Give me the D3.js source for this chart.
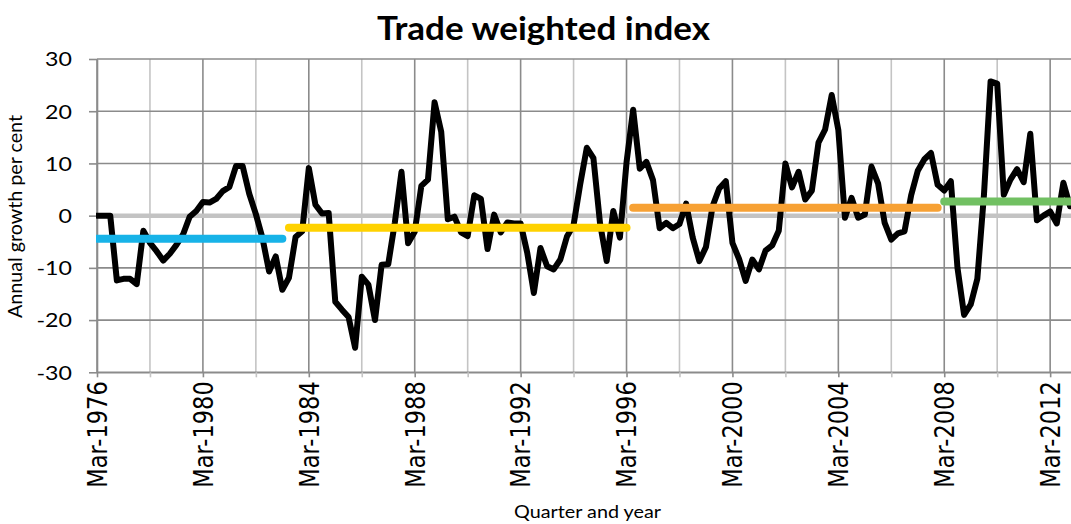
<!DOCTYPE html>
<html>
<head>
<meta charset="utf-8">
<script src="https://cdn.jsdelivr.net/npm/d3@7"></script>
<style>
  body { margin: 0; background: #ffffff; }
  svg { display: block; }
</style>
</head>
<body>
<svg id="chart" width="1071" height="524"></svg>
<script>
// Annual growth of the trade weighted index, per cent, one value per quarter from Mar-1976
const growth = [
  0, 0, 0, -12.4, -12.1, -12.1, -13.1, -2.9, -5.2, -6.8,
  -8.6, -7.3, -5.6, -3.6, -0.2, 0.9, 2.6, 2.5, 3.2, 4.7,
  5.5, 9.5, 9.5, 4.2, 0.3, -4.3, -10.7, -7.8, -14.2, -11.9,
  -4.1, -3, 9.1, 2.1, 0.4, 0.5, -16.5, -18, -19.4, -25.3,
  -11.7, -13.2, -20, -9.4, -9.3, -1.3, 8.4, -5.3, -3.1, 5.7,
  6.9, 21.7, 16.1, -0.7, -0.2, -3.2, -3.9, 3.9, 3.2, -6.4,
  0.2, -3.2, -1.3, -1.5, -1.5, -7.1, -14.8, -6.2, -9.7, -10.3,
  -8.4, -4, -1.8, 6, 13, 11, -1.5, -8.7, 0.9, -4.2,
  10.2, 20.3, 9, 10.3, 6.8, -2.4, -1.4, -2.4, -1.6, 2.3,
  -4.2, -8.7, -6, 1.8, 5.2, 6.6, -5.2, -8.3, -12.5, -8.4,
  -10.3, -6.7, -5.7, -2.9, 10, 5.4, 8.4, 3.1, 4.8, 14,
  16.5, 23.1, 16.4, -0.4, 3.4, -0.4, 0.2, 9.4, 6.2, -1.4,
  -4.6, -3.4, -3, 3.9, 8.6, 10.8, 12, 5.9, 4.8, 6.6,
  -10, -19, -17, -12.1, 4, 25.7, 25.3, 4, 6.9, 8.9,
  6.4, 15.7, -0.9, 0, 0.8, -1.5, 6.3, 1.8
];

// Quarter labels for the category axis
const firstYear = 1976;
const quarterMonths = ["Mar", "Jun", "Sep", "Dec"];
const quarters = growth.map((_, i) => quarterMonths[i % 4] + "-" + (firstYear + Math.floor(i / 4)));

const xTickLabels = ["Mar-1976", "Mar-1980", "Mar-1984", "Mar-1988", "Mar-1992",
                     "Mar-1996", "Mar-2000", "Mar-2004", "Mar-2008", "Mar-2012"];
const yTicks = [-30, -20, -10, 0, 10, 20, 30];

// Period averages
const avgFrom  = ["Mar-1976", "Jun-1983", "Jun-1996", "Mar-2008"];
const avgTo    = ["Mar-1983", "Mar-1996", "Dec-2007", "Dec-2012"];
const avgValue = [-4.4, -2.3, 1.5, 2.7];
const avgColour = ["#17b3e8", "#ffd200", "#f7a134", "#71c062"];

const svg = d3.select("#chart");
const plotLeft = 97, plotRight = 1071, plotTop = 59, plotBottom = 372.3;

const x = d3.scaleLinear().domain([0, growth.length - 1 + 0.15]).range([plotLeft, plotRight]);
const y = d3.scaleLinear().domain([-30, 30]).range([plotBottom, plotTop]);

const darkGrid = "#8b8b8b", lightGrid = "#c4c4c4";

// Vertical gridlines every two years, darker on labelled years
const gridIdx = d3.range(0, growth.length, 8);
svg.append("g").selectAll("line").data(gridIdx).join("line")
  .attr("x1", d => x(d)).attr("x2", d => x(d))
  .attr("y1", plotTop).attr("y2", plotBottom)
  .attr("stroke", d => d % 16 === 0 ? darkGrid : lightGrid)
  .attr("stroke-width", 1.6);

// Horizontal gridlines
svg.append("g").selectAll("line").data(yTicks.filter(v => v !== 0)).join("line")
  .attr("x1", plotLeft).attr("x2", plotRight)
  .attr("y1", d => y(d)).attr("y2", d => y(d))
  .attr("stroke", darkGrid).attr("stroke-width", 1.6);

// Left axis with outward ticks
const yAxis = svg.append("g").attr("transform", `translate(${plotLeft},0)`)
  .call(d3.axisLeft(y).tickValues(yTicks).tickSize(8).tickSizeOuter(0).tickFormat(d => String(d)));
yAxis.select(".domain").attr("stroke", darkGrid).attr("stroke-width", 1.6);
yAxis.selectAll(".tick line").attr("stroke", darkGrid).attr("stroke-width", 1.6);
yAxis.selectAll(".tick text")
  .attr("x", 0).attr("dy", "0.36em")
  .attr("transform", "translate(-25,0) scale(1.22,1)")
  .attr("font-family", "Lato, 'Open Sans', sans-serif")
  .attr("font-size", 19).attr("fill", "#000");

// Bottom axis: ticks every two years, labels every four
const xAxis = svg.append("g").attr("transform", `translate(0,${plotBottom})`)
  .call(d3.axisBottom(x).tickValues(gridIdx).tickSize(5).tickSizeOuter(0)
    .tickFormat(i => xTickLabels.includes(quarters[i]) ? quarters[i] : ""));
xAxis.select(".domain").attr("stroke", darkGrid).attr("stroke-width", 1.6);
xAxis.selectAll(".tick line").attr("stroke", d => d % 16 === 0 ? darkGrid : lightGrid).attr("stroke-width", 1.6);
xAxis.selectAll(".tick text")
  .attr("x", 0).attr("y", 0).attr("dy", "0.36em")
  .attr("text-anchor", "end")
  .attr("transform", "translate(0,9) scale(1.15,1) rotate(-90)")
  .attr("font-family", "'DejaVu Sans', sans-serif")
  .attr("font-size", 22.5).attr("fill", "#000");

// Series clipped to the plot area
svg.append("clipPath").attr("id", "plot-clip")
  .append("rect").attr("x", plotLeft - 1).attr("y", 0).attr("width", plotRight - plotLeft + 1).attr("height", 524);
const plot = svg.append("g").attr("clip-path", "url(#plot-clip)");

// Zero line
plot.append("line")
  .attr("x1", plotLeft).attr("x2", plotRight)
  .attr("y1", y(0)).attr("y2", y(0))
  .attr("stroke", "#c3c3c3").attr("stroke-width", 4.5);

// Growth line
const line = d3.line().x((d, i) => x(i)).y(d => y(d));
plot.append("path").datum(growth)
  .attr("d", line)
  .attr("fill", "none").attr("stroke", "#000")
  .attr("stroke-width", 6).attr("stroke-linejoin", "round").attr("stroke-linecap", "round");

// Period average lines
const avgData = avgValue.map((v, k) => ({
  from: quarters.indexOf(avgFrom[k]), to: quarters.indexOf(avgTo[k]), value: v, colour: avgColour[k]
}));
plot.append("g").selectAll("line").data(avgData).join("line")
  .attr("x1", d => x(d.from)).attr("x2", d => x(d.to))
  .attr("y1", d => y(d.value)).attr("y2", d => y(d.value))
  .attr("stroke", d => d.colour).attr("stroke-width", 8).attr("stroke-linecap", "round");

// Titles
svg.append("text")
  .attr("x", 543.5).attr("y", 40).attr("text-anchor", "middle")
  .attr("font-family", "Lato, 'Open Sans', sans-serif").attr("font-weight", "bold")
  .attr("font-size", 32).attr("textLength", 333).attr("lengthAdjust", "spacingAndGlyphs")
  .text("Trade weighted index");

svg.append("text")
  .attr("transform", "translate(22,216.5) rotate(-90)")
  .attr("text-anchor", "middle")
  .attr("font-family", "Lato, 'Open Sans', sans-serif")
  .attr("font-size", 20).attr("textLength", 203).attr("lengthAdjust", "spacingAndGlyphs")
  .text("Annual growth per cent");

svg.append("text")
  .attr("x", 587.5).attr("y", 518).attr("text-anchor", "middle")
  .attr("font-family", "Lato, 'Open Sans', sans-serif")
  .attr("font-size", 17).attr("textLength", 147).attr("lengthAdjust", "spacingAndGlyphs")
  .text("Quarter and year");
</script>
</body>
</html>
